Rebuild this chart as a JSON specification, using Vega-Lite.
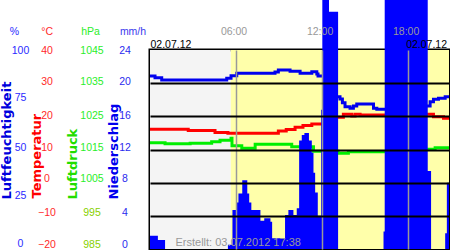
{
  "$schema": "https://vega.github.io/schema/vega-lite/v6.json",
  "width": 299,
  "height": 199,
  "autosize": "none",
  "padding": {"left": 150, "top": 50, "right": 1, "bottom": 1},
  "background": "white",
  "config": {
    "view": {"stroke": "#000000", "strokeWidth": 3},
    "axis": {"labelFont": "Liberation Sans", "titleFont": "Liberation Sans"}
  },
  "datasets": {
    "bg": [
      {"t": "2012-07-02T00:00", "end": "2012-07-02T05:38", "kind": "Nacht"},
      {"t": "2012-07-02T05:38", "end": "2012-07-02T20:51", "kind": "Tag"}
    ],
    "precip": [
      {"t": "2012-07-02T00:00", "p": 1.6},
      {"t": "2012-07-02T00:33", "p": 1.1},
      {"t": "2012-07-02T01:03", "p": 0},
      {"t": "2012-07-02T05:26", "p": 0.5},
      {"t": "2012-07-02T05:45", "p": 4.7},
      {"t": "2012-07-02T06:01", "p": 5.6},
      {"t": "2012-07-02T06:10", "p": 6.7},
      {"t": "2012-07-02T06:26", "p": 8.3},
      {"t": "2012-07-02T06:47", "p": 6.7},
      {"t": "2012-07-02T06:55", "p": 5.6},
      {"t": "2012-07-02T07:04", "p": 4.7},
      {"t": "2012-07-02T07:42", "p": 3.4},
      {"t": "2012-07-02T07:58", "p": 3.7},
      {"t": "2012-07-02T08:24", "p": 3.3},
      {"t": "2012-07-02T08:31", "p": 1.3},
      {"t": "2012-07-02T09:25", "p": 4.1},
      {"t": "2012-07-02T09:39", "p": 4.7},
      {"t": "2012-07-02T10:00", "p": 4.1},
      {"t": "2012-07-02T10:14", "p": 4.9},
      {"t": "2012-07-02T10:24", "p": 13.1},
      {"t": "2012-07-02T10:35", "p": 13.75},
      {"t": "2012-07-02T10:46", "p": 14.0},
      {"t": "2012-07-02T11:05", "p": 13.1},
      {"t": "2012-07-02T11:17", "p": 11.6},
      {"t": "2012-07-02T11:24", "p": 9.2},
      {"t": "2012-07-02T11:31", "p": 6.8},
      {"t": "2012-07-02T11:42", "p": 4.0},
      {"t": "2012-07-02T11:56", "p": 16.8},
      {"t": "2012-07-02T12:01", "p": 32},
      {"t": "2012-07-02T12:29", "p": 28.6},
      {"t": "2012-07-02T13:07", "p": 0},
      {"t": "2012-07-02T16:17", "p": 2.1},
      {"t": "2012-07-02T16:22", "p": 32},
      {"t": "2012-07-02T19:22", "p": 9.4},
      {"t": "2012-07-02T19:36", "p": 0},
      {"t": "2012-07-02T20:35", "p": 1.9},
      {"t": "2012-07-02T20:42", "p": 8.0},
      {"t": "2012-07-02T20:51", "p": 8.0}
    ],
    "hum": [
      {"t": "2012-07-02T00:00", "h": 86.9},
      {"t": "2012-07-02T00:21", "h": 86.1},
      {"t": "2012-07-02T00:49", "h": 84.9},
      {"t": "2012-07-02T05:21", "h": 85.8},
      {"t": "2012-07-02T05:39", "h": 87.0},
      {"t": "2012-07-02T06:03", "h": 88.3},
      {"t": "2012-07-02T08:43", "h": 88.9},
      {"t": "2012-07-02T08:57", "h": 89.9},
      {"t": "2012-07-02T09:46", "h": 89.3},
      {"t": "2012-07-02T10:28", "h": 88.3},
      {"t": "2012-07-02T11:17", "h": 89.1},
      {"t": "2012-07-02T11:38", "h": 88.0},
      {"t": "2012-07-02T11:43", "h": 86.9},
      {"t": "2012-07-02T12:30", "h": 76.5},
      {"t": "2012-07-02T13:15", "h": 75.4},
      {"t": "2012-07-02T13:25", "h": 73.5},
      {"t": "2012-07-02T13:36", "h": 71.5},
      {"t": "2012-07-02T13:57", "h": 70.7},
      {"t": "2012-07-02T14:11", "h": 71.9},
      {"t": "2012-07-02T14:25", "h": 72.9},
      {"t": "2012-07-02T15:35", "h": 70.7},
      {"t": "2012-07-02T15:49", "h": 70.2},
      {"t": "2012-07-02T19:00", "h": 71.9},
      {"t": "2012-07-02T19:32", "h": 74.0},
      {"t": "2012-07-02T19:46", "h": 75.2},
      {"t": "2012-07-02T20:07", "h": 75.7},
      {"t": "2012-07-02T20:35", "h": 76.5},
      {"t": "2012-07-02T20:51", "h": 76.5}
    ],
    "temp": [
      {"t": "2012-07-02T00:00", "T": 16.1},
      {"t": "2012-07-02T02:40", "T": 15.7},
      {"t": "2012-07-02T04:32", "T": 15.1},
      {"t": "2012-07-02T05:26", "T": 14.9},
      {"t": "2012-07-02T08:57", "T": 15.6},
      {"t": "2012-07-02T09:30", "T": 16.0},
      {"t": "2012-07-02T10:07", "T": 16.7},
      {"t": "2012-07-02T10:40", "T": 17.2},
      {"t": "2012-07-02T11:17", "T": 17.7},
      {"t": "2012-07-02T12:30", "T": 19.7},
      {"t": "2012-07-02T13:29", "T": 20.6},
      {"t": "2012-07-02T14:04", "T": 20.1},
      {"t": "2012-07-02T14:18", "T": 20.6},
      {"t": "2012-07-02T14:39", "T": 20.4},
      {"t": "2012-07-02T19:00", "T": 20.6},
      {"t": "2012-07-02T19:46", "T": 19.9},
      {"t": "2012-07-02T20:28", "T": 19.4},
      {"t": "2012-07-02T20:51", "T": 19.4}
    ],
    "press": [
      {"t": "2012-07-02T00:00", "P": 1017.0},
      {"t": "2012-07-02T01:03", "P": 1016.7},
      {"t": "2012-07-02T02:48", "P": 1016.9},
      {"t": "2012-07-02T04:18", "P": 1017.3},
      {"t": "2012-07-02T04:53", "P": 1017.8},
      {"t": "2012-07-02T05:39", "P": 1018.4},
      {"t": "2012-07-02T05:43", "P": 1016.1},
      {"t": "2012-07-02T06:24", "P": 1015.4},
      {"t": "2012-07-02T07:20", "P": 1016.6},
      {"t": "2012-07-02T09:53", "P": 1015.8},
      {"t": "2012-07-02T11:24", "P": 1014.5},
      {"t": "2012-07-02T13:07", "P": 1013.9},
      {"t": "2012-07-02T13:50", "P": 1014.3},
      {"t": "2012-07-02T19:00", "P": 1015.1},
      {"t": "2012-07-02T19:53", "P": 1015.5},
      {"t": "2012-07-02T20:51", "P": 1015.5}
    ]
  },
  "layer": [
    {
      "data": {"name": "bg"},
      "mark": {"type": "rect"},
      "encoding": {
        "x": {
          "field": "t", "type": "temporal",
          "scale": {"domain": [{"year": 2012, "month": 7, "date": 2, "hours": 0, "minutes": 0}, {"year": 2012, "month": 7, "date": 2, "hours": 20, "minutes": 51}]},
          "axis": {
            "orient": "top",
            "values": [
              {"year": 2012, "month": 7, "date": 2, "hours": 0, "minutes": 0},
              {"year": 2012, "month": 7, "date": 2, "hours": 6, "minutes": 0},
              {"year": 2012, "month": 7, "date": 2, "hours": 12, "minutes": 0},
              {"year": 2012, "month": 7, "date": 2, "hours": 18, "minutes": 0},
              {"year": 2012, "month": 7, "date": 2, "hours": 20, "minutes": 51}
            ],
            "labelExpr": "(hours(datum.value) % 6 == 0 && hours(datum.value) > 0) ? timeFormat(datum.value, '%H:%M') : '02.07.12'",
            "labelColor": {"condition": {"test": "hours(datum.value) % 6 == 0 && hours(datum.value) > 0", "value": "#999999"}, "value": "#000000"},
            "labelPadding": {"condition": {"test": "hours(datum.value) % 6 == 0 && hours(datum.value) > 0", "value": 16}, "value": 3},
            "labelOffset": {"condition": {"test": "hours(datum.value) > 0", "value": -2.5}, "value": 0},
            "labelBaseline": "alphabetic",
            "labelFlush": true,
            "labelOverlap": false,
            "labelFontSize": 10.5,
            "ticks": false,
            "tickSize": 0,
            "domain": false,
            "grid": true,
            "gridColor": "#999999",
            "gridWidth": 1.5,
            "gridOpacity": {"condition": {"test": "hours(datum.value) % 6 == 0 && hours(datum.value) > 0", "value": 1}, "value": 0},
            "zindex": 1,
            "title": "Erstellt: 03.07.2012 17:38",
            "titleX": 25,
            "titleY": 195,
            "titleAlign": "left",
            "titleBaseline": "alphabetic",
            "titleColor": "#999999",
            "titleFontWeight": "normal",
            "titleFontSize": 11
          }
        },
        "x2": {"field": "end"},
        "color": {"field": "kind", "type": "nominal", "scale": {"domain": ["Nacht", "Tag"], "range": ["#f4f4f4", "#ffffaa"]}, "legend": null}
      }
    },
    {
      "data": {"name": "hum"},
      "mark": {"type": "line", "interpolate": "step-after", "color": "#0000ee", "strokeWidth": 3},
      "encoding": {
        "x": {"field": "t", "type": "temporal"},
        "y": {
          "field": "h", "type": "quantitative", "scale": {"domain": [0, 100]},
          "axis": {
            "orient": "left", "offset": 130, "values": [0, 25, 50, 75, 100],
            "ticks": false, "tickSize": 0, "domain": false, "grid": false,
            "labelPadding": 0, "labelAlign": "center", "labelColor": "#2a2aff", "labelFontSize": 10.5,
            "labelOffset": {"condition": [{"test": "datum.value == 0", "value": -5.5}, {"test": "datum.value == 25", "value": -4}, {"test": "datum.value == 50 || datum.value == 75", "value": -2.5}], "value": 0},
            "title": "Luftfeuchtigkeit", "titleAngle": 270, "titleX": -14, "titleY": 149,
            "titleAlign": "left", "titleBaseline": "middle", "titleColor": "#0000dd",
            "titleFont": "DejaVu Sans", "titleFontSize": 13, "titleFontWeight": "bold"
          }
        }
      }
    },
    {
      "data": {"name": "temp"},
      "mark": {"type": "line", "interpolate": "step-after", "color": "#ff0000", "strokeWidth": 3},
      "encoding": {
        "x": {"field": "t", "type": "temporal"},
        "y": {
          "field": "T", "type": "quantitative", "scale": {"domain": [-20, 40]},
          "axis": {
            "orient": "left", "offset": 103.5, "values": [-20, -10, 0, 10, 20, 30, 40],
            "ticks": false, "tickSize": 0, "domain": false,
            "grid": true, "gridColor": "#000000", "gridWidth": 2,
            "gridOpacity": {"condition": {"test": "datum.value > -20 && datum.value < 40", "value": 1}, "value": 0},
            "zindex": 1,
            "labelPadding": 0, "labelAlign": "center", "labelColor": "#ff2a2a", "labelFontSize": 10.5,
            "labelOffset": {"condition": [{"test": "datum.value == -20", "value": -5}, {"test": "datum.value == -10 || datum.value == 0", "value": -3.7}, {"test": "datum.value == 10", "value": -2.5}, {"test": "datum.value == 20 || datum.value == 30", "value": -1.3}], "value": 0},
            "title": "Temperatur", "titleAngle": 270, "titleX": -10.5, "titleY": 148,
            "titleAlign": "left", "titleBaseline": "middle", "titleColor": "#ff0000",
            "titleFont": "DejaVu Sans", "titleFontSize": 13, "titleFontWeight": "bold"
          }
        }
      }
    },
    {
      "data": {"name": "press"},
      "mark": {"type": "line", "interpolate": "step-after", "color": "#00ee00", "strokeWidth": 3},
      "encoding": {
        "x": {"field": "t", "type": "temporal"},
        "y": {
          "field": "P", "type": "quantitative", "scale": {"domain": [985, 1045]},
          "axis": {
            "orient": "left", "offset": 58.5, "values": [985, 995, 1005, 1015, 1025, 1035, 1045],
            "format": "d",
            "ticks": false, "tickSize": 0, "domain": false, "grid": false,
            "labelPadding": 0, "labelAlign": "center", "labelFontSize": 10.5,
            "labelColor": {"condition": {"test": "datum.value < 1000", "value": "#88d000"}, "value": "#2aee2a"},
            "labelOffset": {"condition": [{"test": "datum.value == 985", "value": -5}, {"test": "datum.value == 995 || datum.value == 1005", "value": -3.7}, {"test": "datum.value == 1015", "value": -2.5}, {"test": "datum.value == 1025 || datum.value == 1035", "value": -1.3}], "value": 0},
            "title": "Luftdruck", "titleAngle": 270, "titleX": -19.5, "titleY": 149,
            "titleAlign": "left", "titleBaseline": "middle", "titleColor": "#22dd00",
            "titleFont": "DejaVu Sans", "titleFontSize": 13, "titleFontWeight": "bold"
          }
        }
      }
    },
    {
      "data": {"name": "precip"},
      "mark": {"type": "area", "interpolate": "step-after", "color": "#0000ff", "opacity": 1},
      "encoding": {
        "x": {"field": "t", "type": "temporal"},
        "y": {
          "field": "p", "type": "quantitative", "scale": {"domain": [0, 24]},
          "axis": {
            "orient": "left", "offset": 25.5, "values": [0, 4, 8, 12, 16, 20, 24],
            "ticks": false, "tickSize": 0, "domain": false, "grid": false,
            "labelPadding": 0, "labelAlign": "center", "labelColor": "#2a2aee", "labelFontSize": 10.5,
            "labelOffset": {"condition": [{"test": "datum.value == 0", "value": -5}, {"test": "datum.value == 4 || datum.value == 8", "value": -3.7}, {"test": "datum.value == 12", "value": -2.5}, {"test": "datum.value == 16 || datum.value == 20", "value": -1.3}], "value": 0},
            "title": "Niederschlag", "titleAngle": 270, "titleX": -11.5, "titleY": 149,
            "titleAlign": "left", "titleBaseline": "middle", "titleColor": "#0000ee",
            "titleFont": "DejaVu Sans", "titleFontSize": 13, "titleFontWeight": "bold"
          }
        }
      }
    },
    {
      "data": {"name": "hum"},
      "mark": {"type": "line", "opacity": 0},
      "encoding": {
        "x": {"field": "t", "type": "temporal"},
        "y": {
          "field": "h", "type": "quantitative", "scale": {"domain": [0, 100]},
          "axis": {"orient": "left", "offset": 0, "labels": false, "ticks": false, "domain": false, "grid": false,
            "title": "%", "titleAngle": 0, "titleX": -136.2, "titleY": -16, "titleAlign": "center", "titleBaseline": "alphabetic",
            "titleColor": "#2a2aff", "titleFontWeight": "normal", "titleFontSize": 10.5}
        }
      }
    },
    {
      "data": {"name": "temp"},
      "mark": {"type": "line", "opacity": 0},
      "encoding": {
        "x": {"field": "t", "type": "temporal"},
        "y": {
          "field": "T", "type": "quantitative", "scale": {"domain": [-20, 40]},
          "axis": {"orient": "left", "offset": 0, "labels": false, "ticks": false, "domain": false, "grid": false,
            "title": "°C", "titleAngle": 0, "titleX": -103.3, "titleY": -16, "titleAlign": "center", "titleBaseline": "alphabetic",
            "titleColor": "#ff2a2a", "titleFontWeight": "normal", "titleFontSize": 10.5}
        }
      }
    },
    {
      "data": {"name": "press"},
      "mark": {"type": "line", "opacity": 0},
      "encoding": {
        "x": {"field": "t", "type": "temporal"},
        "y": {
          "field": "P", "type": "quantitative", "scale": {"domain": [985, 1045]},
          "axis": {"orient": "left", "offset": 0, "labels": false, "ticks": false, "domain": false, "grid": false,
            "title": "hPa", "titleAngle": 0, "titleX": -60, "titleY": -16, "titleAlign": "center", "titleBaseline": "alphabetic",
            "titleColor": "#2aee2a", "titleFontWeight": "normal", "titleFontSize": 10.5}
        }
      }
    },
    {
      "data": {"name": "precip"},
      "mark": {"type": "line", "opacity": 0},
      "encoding": {
        "x": {"field": "t", "type": "temporal"},
        "y": {
          "field": "p", "type": "quantitative", "scale": {"domain": [0, 24]},
          "axis": {"orient": "left", "offset": 0, "labels": false, "ticks": false, "domain": false, "grid": false,
            "title": "mm/h", "titleAngle": 0, "titleX": -17.5, "titleY": -16, "titleAlign": "center", "titleBaseline": "alphabetic",
            "titleColor": "#3a3aee", "titleFontWeight": "normal", "titleFontSize": 10.5}
        }
      }
    }
  ],
  "resolve": {"scale": {"y": "independent"}}
}
